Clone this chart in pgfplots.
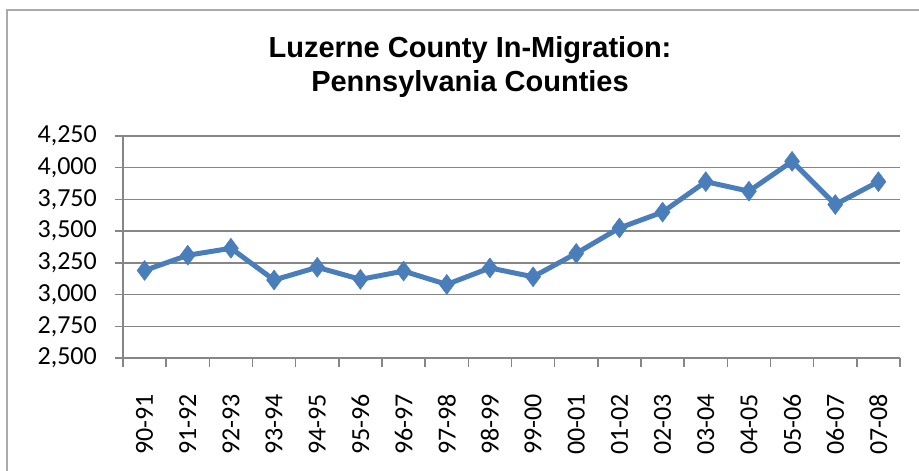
\documentclass[border=0pt]{standalone}
\usepackage{fontspec}
\setmainfont{Carlito}
\newfontfamily\titlefont{Liberation Sans}
\usepackage{pgfplots}
\pgfplotsset{compat=1.18}
\definecolor{serie}{HTML}{4A7EBB}
\definecolor{gridc}{HTML}{868686}
\begin{document}
\begin{tikzpicture}[x=1pt,y=1pt]
\path[use as bounding box] (0pt,0pt) rectangle (919pt,-471pt);
\draw[gridc!70, line width=1.5pt] (7pt,-471pt) -- (7pt,-10pt) -- (919pt,-10pt);
\node[font=\titlefont\fontsize{29}{30}\selectfont\bfseries, anchor=base] at (470pt,-57pt) {Luzerne County In-Migration:};
\node[font=\titlefont\fontsize{29}{30}\selectfont\bfseries, anchor=base] at (470pt,-91pt) {Pennsylvania Counties};
\begin{axis}[
  at={(123pt,-358pt)}, anchor=south west,
  scale only axis, width=777pt, height=222pt,
  xmin=-0.5, xmax=17.5, ymin=2500, ymax=4250,
  axis x line=bottom, axis y line=left,
  axis line style={-, gridc, line width=2pt},
  ytick={2500,2750,...,4250},
  xtick={0,...,17},
  xticklabels={90-91,91-92,92-93,93-94,94-95,95-96,96-97,97-98,98-99,99-00,00-01,01-02,02-03,03-04,04-05,05-06,06-07,07-08},
  minor xtick={-0.5,0.5,...,17.5},
  major x tick style={draw=none},
  minor tick length=9pt, major tick length=8pt,
  tick align=outside,
  every tick/.style={gridc, line width=1.5pt},
  ymajorgrids, grid style={gridc, line width=1.5pt},
  /pgf/number format/assume math mode=true,
  /pgf/number format/1000 sep={,},
  yticklabel style={font=\fontsize{26}{26}\selectfont, inner sep=0pt, anchor=east},
  xticklabel style={font=\fontsize{26}{26}\selectfont, inner sep=0pt, rotate=90, anchor=east},
  yticklabel shift=18pt,
  xticklabel shift=28pt,
  clip=false,
]
\addplot[serie, line width=5pt, line join=round, mark=diamond*, mark size=10pt, mark options={solid, fill=serie, draw=serie, line width=0.5pt}] coordinates {
(0,3190) (1,3310) (2,3365) (3,3115) (4,3215) (5,3120) (6,3185) (7,3080) (8,3210)
(9,3140) (10,3325) (11,3525) (12,3650) (13,3890) (14,3815) (15,4050) (16,3710) (17,3890)
};
\end{axis}
\end{tikzpicture}
\end{document}
